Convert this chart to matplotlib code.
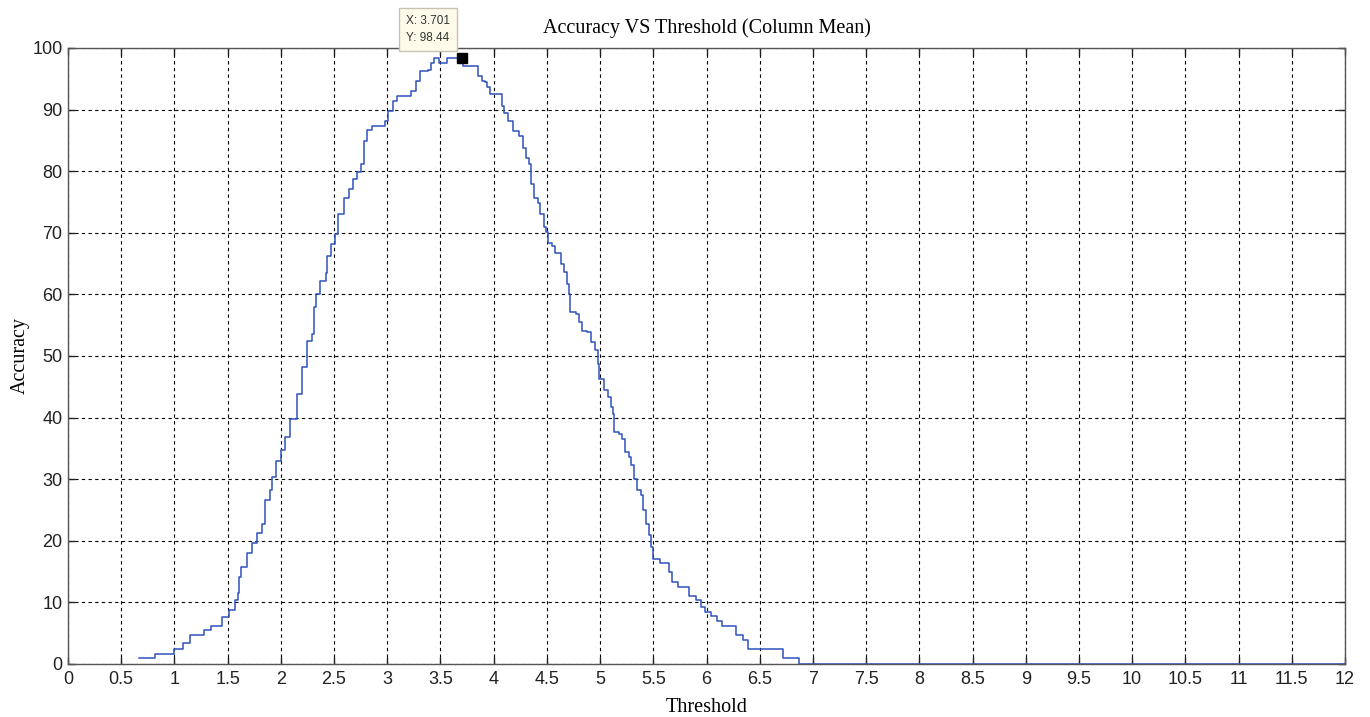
import numpy as np
import matplotlib
matplotlib.use("Agg")
import matplotlib.pyplot as plt

# step curve (value holds from each threshold onward)
threshold = [0.67, 0.82, 1.00, 1.08, 1.15, 1.28, 1.34, 1.45, 1.51, 1.57,
             1.60, 1.61, 1.63, 1.68, 1.73, 1.78, 1.82, 1.85, 1.90, 1.92,
             1.95, 2.00, 2.04, 2.09, 2.15, 2.20, 2.25, 2.29, 2.31, 2.33,
             2.37, 2.42, 2.43, 2.47, 2.51, 2.54, 2.59, 2.64, 2.68, 2.72,
             2.75, 2.78, 2.81, 2.86, 2.98, 3.01, 3.05, 3.09, 3.22, 3.27,
             3.31, 3.38, 3.41, 3.44, 3.49, 3.56, 3.71, 3.85, 3.89, 3.92,
             3.94, 3.97, 4.08, 4.10, 4.13, 4.18, 4.24, 4.28, 4.30, 4.33,
             4.35, 4.38, 4.42, 4.44, 4.47, 4.49, 4.51, 4.55, 4.58, 4.63,
             4.66, 4.69, 4.71, 4.72, 4.77, 4.80, 4.83, 4.88, 4.91, 4.95,
             4.98, 4.99, 5.04, 5.07, 5.10, 5.12, 5.13, 5.18, 5.21, 5.23,
             5.27, 5.29, 5.32, 5.35, 5.38, 5.40, 5.43, 5.46, 5.48, 5.50,
             5.56, 5.65, 5.68, 5.73, 5.84, 5.90, 5.95, 5.99, 6.04, 6.10,
             6.15, 6.28, 6.34, 6.39, 6.72, 6.87, 12.0]
accuracy = [0.93, 1.6, 2.4, 3.35, 4.7, 5.5, 6.2, 7.7, 8.75, 10.4,
            11.5, 14.1, 15.8, 18.0, 19.6, 21.2, 22.8, 26.6, 28.2, 30.4,
            33.0, 34.7, 36.8, 39.7, 43.9, 48.2, 52.5, 53.6, 57.9, 60.1,
            62.2, 63.4, 66.3, 68.2, 69.8, 73.0, 75.7, 77.1, 78.7, 79.8,
            81.2, 84.9, 86.7, 87.4, 88.2, 89.8, 91.4, 92.2, 93.1, 94.7,
            96.2, 96.4, 97.5, 98.3, 97.6, 98.44, 97.1, 95.5, 94.7, 94.4,
            93.6, 92.5, 90.6, 89.5, 88.2, 86.5, 85.7, 83.8, 82.2, 81.1,
            77.9, 75.7, 74.9, 73.0, 70.9, 70.1, 68.4, 67.9, 66.8, 64.9,
            63.6, 61.7, 60.1, 57.1, 56.8, 55.5, 54.1, 53.9, 52.2, 50.9,
            48.7, 46.3, 44.4, 43.3, 41.7, 40.6, 37.7, 37.4, 36.6, 34.4,
            33.6, 32.3, 30.1, 28.2, 27.4, 25.0, 22.8, 20.9, 19.0, 17.1,
            16.4, 15.0, 13.3, 12.5, 11.0, 10.4, 9.3, 8.5, 7.8, 7.0,
            6.2, 4.7, 3.9, 2.4, 0.92, 0.0, 0.0]

tip_x, tip_y = 3.701, 98.44

xticks = np.arange(0, 12.01, 0.5)
yticks = np.arange(0, 101, 10)

serif = ['Liberation Serif', 'DejaVu Serif']
sans = ['Liberation Sans', 'DejaVu Sans']

fig = plt.figure(figsize=(13.7, 7.17), dpi=100)
ax = fig.add_axes([68 / 1370, 53 / 717, 1277 / 1370, 616 / 717])

ax.step(threshold, accuracy, where='post', color='#2f52bd', lw=1.1)
ax.plot(tip_x, tip_y, 's', color='black', ms=6.5, zorder=5)
ax.annotate('X: 3.701\nY: 98.44', xy=(tip_x, tip_y), xytext=(-34, 28),
            textcoords='offset pixels', ha='center', va='center',
            fontsize=8.5, family=sans, color='#333333', linespacing=1.6,
            annotation_clip=False,
            bbox=dict(boxstyle='square,pad=0.6', fc='#fffbea', ec='#c9c2b2', lw=1))

ax.set_xlim(0, 12)
ax.set_ylim(0, 100)
ax.set_xticks(xticks)
ax.set_xticklabels(['%g' % t for t in xticks])
ax.set_yticks(yticks)
ax.grid(True, color='black', linestyle=(0, (3, 3)), linewidth=0.8)
ax.tick_params(direction='in', length=5, width=1, top=True, right=True,
               labelsize=13, colors='#222222')
ax.tick_params(axis='x', pad=5)
ax.tick_params(axis='y', pad=4)
for lab in ax.get_xticklabels() + ax.get_yticklabels():
    lab.set_family(sans)
for s in ax.spines.values():
    s.set_color('#555555')
    s.set_linewidth(1)

ax.set_title('Accuracy VS Threshold (Column Mean)', family=serif, fontsize=14.5, pad=11)
ax.set_xlabel('Threshold', family=serif, fontsize=14.5, labelpad=7)
ax.set_ylabel('Accuracy', family=serif, fontsize=14.5, labelpad=2)

fig.savefig('out.png', dpi=100)
